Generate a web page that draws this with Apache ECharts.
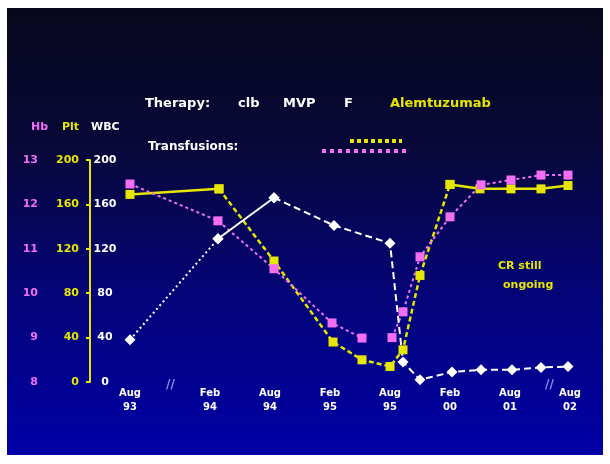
<!DOCTYPE html>
<html>
<head>
<meta charset="utf-8">
<script src="https://cdn.jsdelivr.net/npm/echarts@6/dist/echarts.min.js"></script>
<style>
  html, body { margin: 0; padding: 0; background: #fff; }
  #chart { width: 610px; height: 464px; }
</style>
</head>
<body>
<div id="chart"></div>
<script>
// Time positions (axis units) of the labelled dates and their labels
const tickPos = [0, 4, 7, 10, 13, 16, 19, 22];
const tickLabels = ['Aug\n93', 'Feb\n94', 'Aug\n94', 'Feb\n95', 'Aug\n95', 'Feb\n00', 'Aug\n01', 'Aug\n02'];

// Haemoglobin (g/dL); null marks an interruption of the line
const hbX    = [0, 4.4, 7.2, 10.1, 11.6, 12.3, 13.1, 13.65, 14.5, 16.0, 17.55, 19.05, 20.55, 21.9];
const hbVals = [12.46, 11.63, 10.55, 9.33, 8.99, null, 9.0, 9.58, 10.82, 11.72, 12.44, 12.55, 12.66, 12.66];

// Platelets
const pltX    = [0, 4.45, 7.2, 10.15, 11.6, 13.0, 13.65, 14.5, 16.0, 17.5, 19.05, 20.55, 21.9];
const pltVals = [169, 174, 109, 36, 20, 14, 29, 96, 178, 174, 174, 174, 177];

// White blood cells
const wbcX    = [0, 4.4, 7.2, 10.2, 13.0, 13.65, 14.5, 16.1, 17.55, 19.1, 20.55, 21.9];
const wbcVals = [38, 129, 166, 141, 125, 18, 2, 9, 11, 11, 13, 14];

const PINK = '#f46ef4';
const YELLOW = '#e6e600';
const WHITE = '#ffffff';
const FONT = 'DejaVu Sans';

function pts(xs, vs, from, to) {
  const out = [];
  for (let i = from; i <= to; i++) out.push([xs[i], vs[i] === null ? '-' : vs[i]]);
  return out;
}

function lineSeries(yIdx, data, color, type, width, symbol, size) {
  return {
    type: 'line', yAxisIndex: yIdx, data: data,
    symbol: symbol, symbolSize: size,
    itemStyle: { color: color },
    lineStyle: { color: color, width: width, type: type },
    connectNulls: false, animation: false, z: 3
  };
}

const series = [
  // platelets: solid start, dashed decline and recovery, solid plateau
  lineSeries(0, pts(pltX, pltVals, 0, 1), YELLOW, 'solid', 2.5, 'rect', 9),
  lineSeries(0, pts(pltX, pltVals, 1, 8), YELLOW, [5, 3], 2.5, 'rect', 9),
  lineSeries(0, pts(pltX, pltVals, 8, pltX.length - 1), YELLOW, 'solid', 2.5, 'rect', 9),
  // haemoglobin
  lineSeries(1, pts(hbX, hbVals, 0, hbX.length - 1), PINK, [3, 3], 2, 'rect', 9),
  // white cells
  lineSeries(2, pts(wbcX, wbcVals, 0, 1), WHITE, [2, 3], 2, 'diamond', 11),
  lineSeries(2, pts(wbcX, wbcVals, 1, 2), WHITE, 'solid', 2, 'diamond', 11),
  lineSeries(2, pts(wbcX, wbcVals, 2, wbcX.length - 1), WHITE, [7, 4], 2, 'diamond', 11)
];

const txt = (x, y, s, color, size, align) => ({
  type: 'text', x: x, y: y, silent: true,
  style: { text: s, fill: color, font: 'bold ' + (size || 11) + 'px "' + FONT + '"',
           textAlign: align || 'left', textVerticalAlign: 'middle' }
});

const chart = echarts.init(document.getElementById('chart'), null, { renderer: 'canvas' });
chart.setOption({
  backgroundColor: '#ffffff',
  animation: false,
  grid: { left: 90, right: 20, top: 160, bottom: 82, containLabel: false },
  xAxis: {
    type: 'value', min: -2, max: 23, interval: 1,
    axisLine: { show: false }, axisTick: { show: false }, splitLine: { show: false },
    axisLabel: {
      color: WHITE, fontFamily: FONT, fontWeight: 'bold', fontSize: 10, lineHeight: 14, margin: 4,
      formatter: v => { const i = tickPos.indexOf(v); return i < 0 ? '' : tickLabels[i]; }
    }
  },
  yAxis: [
    { // platelets
      type: 'value', position: 'left', min: 0, max: 200, interval: 40,
      axisLine: { show: true, onZero: false, lineStyle: { color: YELLOW, width: 2 } },
      axisTick: { show: true, length: 4, lineStyle: { color: YELLOW, width: 2 } },
      splitLine: { show: false },
      axisLabel: { color: YELLOW, fontFamily: FONT, fontWeight: 'bold', fontSize: 11, margin: 11 }
    },
    { // haemoglobin
      type: 'value', position: 'left', offset: 40, min: 8, max: 13, interval: 1,
      axisLine: { show: false, onZero: false }, axisTick: { show: false }, splitLine: { show: false },
      axisLabel: { color: PINK, fontFamily: FONT, fontWeight: 'bold', fontSize: 11, margin: 12 }
    },
    { // white cells
      type: 'value', position: 'left', offset: 0, min: 0, max: 200, interval: 40,
      axisLine: { show: false, onZero: false }, axisTick: { show: false }, splitLine: { show: false },
      axisLabel: { inside: true, align: 'center', color: WHITE, fontFamily: FONT,
                   fontWeight: 'bold', fontSize: 11, margin: 15 }
    }
  ],
  graphic: [
    { type: 'rect', z: -100, silent: true,
      shape: { x: 7, y: 8, width: 596, height: 447 },
      style: { fill: new echarts.graphic.LinearGradient(0, 0, 0, 1, [
        { offset: 0, color: '#07071c' },
        { offset: 0.3, color: '#080838' },
        { offset: 0.65, color: '#04047a' },
        { offset: 1, color: '#0000a6' }
      ]) } },
    txt(145, 104, 'Therapy:', WHITE, 13),
    txt(238, 104, 'clb', WHITE, 13),
    txt(283, 104, 'MVP', WHITE, 13),
    txt(344, 104, 'F', WHITE, 13),
    txt(390, 104, 'Alemtuzumab', YELLOW, 13),
    txt(148, 147, 'Transfusions:', WHITE, 12),
    { type: 'line', silent: true, shape: { x1: 350, y1: 141, x2: 402, y2: 141 },
      style: { stroke: YELLOW, lineWidth: 4, lineDash: [4, 3] } },
    { type: 'line', silent: true, shape: { x1: 322, y1: 151, x2: 406, y2: 151 },
      style: { stroke: PINK, lineWidth: 4, lineDash: [4, 4] } },
    txt(31, 127, 'Hb', PINK, 11),
    txt(62, 127, 'Plt', YELLOW, 11),
    txt(91, 127, 'WBC', WHITE, 11),
    txt(498, 266, 'CR still', YELLOW, 11),
    txt(503, 285, 'ongoing', YELLOW, 11),
    txt(166, 385, '//', '#8d8df0', 12),
    txt(545, 385, '//', '#8d8df0', 12)
  ],
  series: series
});
</script>
</body>
</html>
